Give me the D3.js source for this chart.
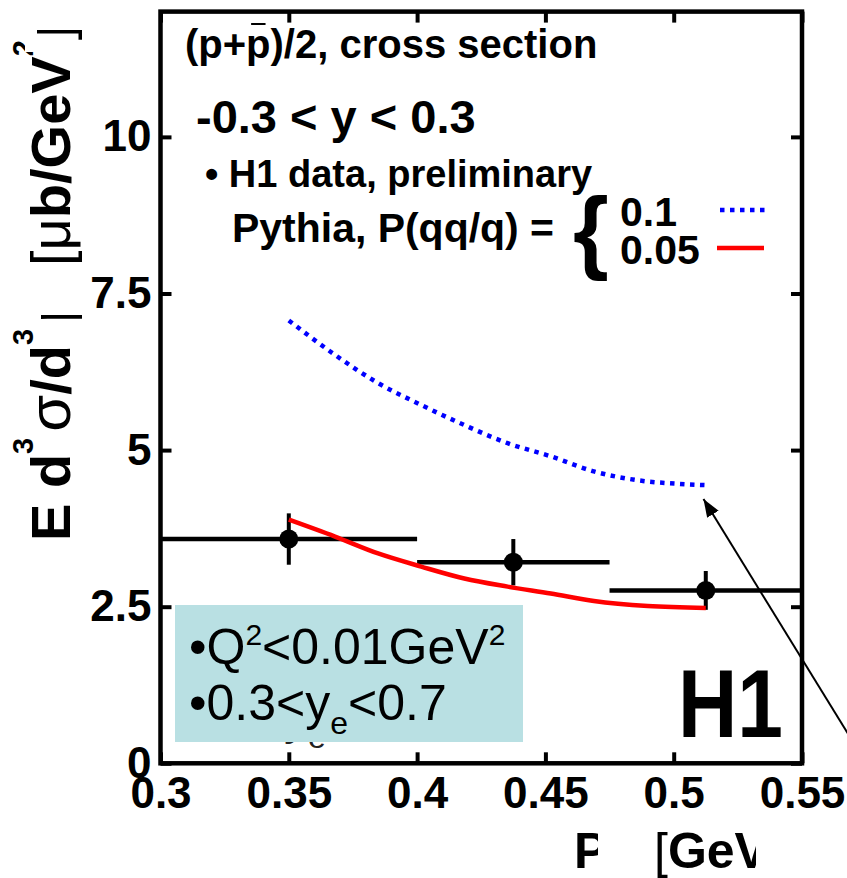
<!DOCTYPE html>
<html>
<head>
<meta charset="utf-8">
<script src="https://cdnjs.cloudflare.com/ajax/libs/d3/7.8.5/d3.min.js"></script>
<style>
  body { margin: 0; background: #fff; }
  svg { display: block; }
  text { font-family: "Liberation Sans", Arial, sans-serif; }
</style>
</head>
<body>
<script>
// ---------- data
var xTicks = [0.3, 0.35, 0.4, 0.45, 0.5, 0.55];
var xTickLabels = ["0.3", "0.35", "0.4", "0.45", "0.5", "0.55"];
var yTicks = [0, 2.5, 5, 7.5, 10];
var yTickLabels = ["0", "2.5", "5", "7.5", "10"];

// H1 points: bin edges, centre, value, error
var binLo = [0.3, 0.4, 0.475];
var binHi = [0.4, 0.475, 0.55];
var ptX = [0.35, 0.4375, 0.5125];
var ptY = [3.58, 3.21, 2.76];
var ptErr = [0.41, 0.37, 0.31];

// Pythia P(qq/q) = 0.1 (blue dotted)
var pyth01X = [0.35, 0.368, 0.3848, 0.4016, 0.4184, 0.4353, 0.4521, 0.4689, 0.4857, 0.5025, 0.5125];
var pyth01Y = [7.07, 6.52, 6.07, 5.72, 5.40, 5.11, 4.90, 4.66, 4.52, 4.46, 4.44];

// Pythia P(qq/q) = 0.05 (red)
var pyth005X = [0.35, 0.368, 0.3848, 0.4016, 0.4184, 0.4353, 0.4521, 0.4689, 0.4899, 0.5125];
var pyth005Y = [3.89, 3.62, 3.35, 3.14, 2.95, 2.82, 2.71, 2.59, 2.51, 2.48];

// arrow annotation (tail, tip) in data units
var arrowFrom = [0.575, 0.0];
var arrowTo = [0.5116, 4.22];

// ---------- size
var W = 847, H = 878;
var padL = 160.5, padR = 802, padT = 11.6, padB = 763.3;

var svg = d3.select("body").append("svg")
    .attr("width", W)
    .attr("height", H);

var x = d3.scaleLinear().domain([0.3, 0.55]).range([padL, padR]);
var y = d3.scaleLinear().domain([0, 12]).range([padB, padT]);

// arrow head marker
svg.append("defs").append("marker")
    .attr("id", "head")
    .attr("markerUnits", "userSpaceOnUse")
    .attr("viewBox", "0 0 16 12")
    .attr("refX", 16).attr("refY", 6)
    .attr("markerWidth", 18).attr("markerHeight", 14)
    .attr("orient", "auto")
  .append("path")
    .attr("d", "M0,0L16,6L0,12Z")
    .attr("fill", "#000");

// ---------- axes (ticks point inwards)
function styleAxis(g, size) {
  g.select(".domain").remove();
  g.selectAll(".tick line").attr("stroke", "#000").attr("stroke-width", 4);
  g.selectAll(".tick text")
    .attr("fill", "#000")
    .attr("font-size", size)
    .attr("font-weight", "bold");
}

svg.append("g")
    .attr("transform", "translate(0," + padB + ")")
    .call(d3.axisBottom(x).tickValues(xTicks).tickSizeInner(-11).tickSizeOuter(0).tickPadding(13)
      .tickFormat(function(d, i) { return xTickLabels[i]; }))
    .call(styleAxis, 44);

svg.append("g")
    .attr("transform", "translate(0," + padT + ")")
    .call(d3.axisTop(x).tickValues(xTicks).tickSizeInner(-11).tickSizeOuter(0).tickFormat(""))
    .call(styleAxis, 0);

svg.append("g")
    .attr("transform", "translate(" + padL + ",0)")
    .call(d3.axisLeft(y).tickValues(yTicks).tickSizeInner(-11).tickSizeOuter(0).tickPadding(9)
      .tickFormat(function(d, i) { return yTickLabels[i]; }))
    .call(styleAxis, 44);

svg.append("g")
    .attr("transform", "translate(" + padR + ",0)")
    .call(d3.axisRight(y).tickValues(yTicks).tickSizeInner(-11).tickSizeOuter(0).tickFormat(""))
    .call(styleAxis, 0);

// frame
svg.append("rect")
    .attr("x", padL).attr("y", padT)
    .attr("width", padR - padL).attr("height", padB - padT)
    .attr("fill", "none")
    .attr("stroke", "#000")
    .attr("stroke-width", 4.5);

// ---------- H1 points
var pts = ptX.map(function(d, i) {
  return { x: d, y: ptY[i], e: ptErr[i], lo: binLo[i], hi: binHi[i] };
});

svg.selectAll("line.hbar")
  .data(pts)
  .enter().append("line")
    .attr("class", "hbar")
    .attr("x1", function(d) { return x(d.lo); })
    .attr("x2", function(d) { return x(d.hi); })
    .attr("y1", function(d) { return y(d.y); })
    .attr("y2", function(d) { return y(d.y); })
    .attr("stroke", "#000").attr("stroke-width", 4.5);

svg.selectAll("line.vbar")
  .data(pts)
  .enter().append("line")
    .attr("class", "vbar")
    .attr("x1", function(d) { return x(d.x); })
    .attr("x2", function(d) { return x(d.x); })
    .attr("y1", function(d) { return y(d.y - d.e); })
    .attr("y2", function(d) { return y(d.y + d.e); })
    .attr("stroke", "#000").attr("stroke-width", 4);

svg.selectAll("circle.pt")
  .data(pts)
  .enter().append("circle")
    .attr("class", "pt")
    .attr("cx", function(d) { return x(d.x); })
    .attr("cy", function(d) { return y(d.y); })
    .attr("r", 9.5)
    .attr("fill", "#000");

// ---------- Pythia curves
var line = d3.line()
    .x(function(d) { return x(d[0]); })
    .y(function(d) { return y(d[1]); })
    .curve(d3.curveMonotoneX);

svg.append("path")
    .datum(d3.zip(pyth01X, pyth01Y))
    .attr("d", line)
    .attr("fill", "none")
    .attr("stroke", "#0000ff")
    .attr("stroke-width", 4.5)
    .attr("stroke-dasharray", "4.5,5.5");

svg.append("path")
    .datum(d3.zip(pyth005X, pyth005Y))
    .attr("d", line)
    .attr("fill", "none")
    .attr("stroke", "#ff0000")
    .attr("stroke-width", 4.5);

// arrow
svg.append("line")
    .attr("x1", x(arrowFrom[0])).attr("y1", y(arrowFrom[1]))
    .attr("x2", x(arrowTo[0])).attr("y2", y(arrowTo[1]))
    .attr("stroke", "#000").attr("stroke-width", 2)
    .attr("marker-end", "url(#head)");

// ---------- labels inside the frame
var t1 = svg.append("text")
    .attr("x", 185).attr("y", 58)
    .attr("font-size", 40).attr("font-weight", "bold")
    .text("(p+p)/2, cross section");
// bar over the second p
var n = t1.node();
var b0 = n.getStartPositionOfChar(3).x, b1 = n.getEndPositionOfChar(3).x;
svg.append("line")
    .attr("x1", b0 + 5).attr("x2", b1 - 5)
    .attr("y1", 24).attr("y2", 24)
    .attr("stroke", "#000").attr("stroke-width", 2);

svg.append("text")
    .attr("x", 196).attr("y", 133)
    .attr("font-size", 47).attr("font-weight", "bold")
    .text("-0.3 < y < 0.3");

svg.append("text")
    .attr("x", 205).attr("y", 187)
    .attr("font-size", 38).attr("font-weight", "bold")
    .text("\u2022 H1 data, preliminary");

svg.append("text")
    .attr("x", 232).attr("y", 242)
    .attr("font-size", 41).attr("font-weight", "bold")
    .attr("textLength", 322).attr("lengthAdjust", "spacingAndGlyphs")
    .text("Pythia, P(qq/q) =");

svg.append("text")
    .attr("x", 573).attr("y", 262)
    .attr("font-size", 92).attr("font-weight", "bold")
    .text("{");

svg.append("text")
    .attr("x", 620).attr("y", 226)
    .attr("font-size", 41).attr("font-weight", "bold")
    .text("0.1");
svg.append("text")
    .attr("x", 620).attr("y", 264)
    .attr("font-size", 41).attr("font-weight", "bold")
    .text("0.05");

svg.append("line")
    .attr("x1", 720).attr("x2", 766).attr("y1", 210).attr("y2", 210)
    .attr("stroke", "#0000ff").attr("stroke-width", 4.5)
    .attr("stroke-dasharray", "4.5,5.5");
svg.append("line")
    .attr("x1", 717).attr("x2", 764).attr("y1", 248).attr("y2", 248)
    .attr("stroke", "#ff0000").attr("stroke-width", 4.5);

// ghost subscript peeking below the box
var ghost = svg.append("text")
    .attr("x", 284).attr("y", 734)
    .attr("font-size", 48).attr("fill", "#222");
ghost.append("tspan").text("y");
ghost.append("tspan").attr("font-size", 32).attr("dy", 14).text("e");

// cut box
svg.append("rect")
    .attr("x", 175).attr("y", 605)
    .attr("width", 348).attr("height", 137)
    .attr("fill", "#b9e0e3");

var c1 = svg.append("text")
    .attr("x", 189).attr("y", 664)
    .attr("font-size", 50).attr("fill", "#000");
c1.append("tspan").text("\u2022Q");
c1.append("tspan").attr("font-size", 30).attr("dy", -19).text("2");
c1.append("tspan").attr("dy", 19).text("<0.01GeV");
c1.append("tspan").attr("font-size", 30).attr("dy", -19).text("2");

var c2 = svg.append("text")
    .attr("x", 189).attr("y", 720)
    .attr("font-size", 50).attr("fill", "#000");
c2.append("tspan").text("\u20220.3<y");
c2.append("tspan").attr("font-size", 32).attr("dy", 14).text("e");
c2.append("tspan").attr("dy", -14).text("<0.7");

svg.append("text")
    .attr("x", 678).attr("y", 737)
    .attr("font-size", 96).attr("font-weight", "bold")
    .attr("textLength", 105).attr("lengthAdjust", "spacingAndGlyphs")
    .text("H1");

// ---------- y title (rotated, partly hidden)
var yt = svg.append("g").attr("transform", "translate(70,0) rotate(-90)");
var ylo = yt.append("text").attr("x", -541).attr("y", 0)
    .attr("font-size", 56).attr("font-weight", "bold");
ylo.append("tspan").text("E d");
ylo.append("tspan").attr("font-size", 29).attr("dy", -37).text("3");
ylo.append("tspan").attr("dy", 37).attr("dx", 6).attr("font-weight", "normal").attr("font-size", 60).text("\u03c3");
ylo.append("tspan").text("/d");
ylo.append("tspan").attr("font-size", 29).attr("dy", -37).text("3");
ylo.append("tspan").attr("dy", 37).attr("dx", 6).text("p");

var yhi = yt.append("text").attr("x", -266).attr("y", 0)
    .attr("font-size", 56).attr("font-weight", "bold");
yhi.append("tspan").attr("font-weight", "normal").text("[\u03bc");
yhi.append("tspan").text("b/GeV");
yhi.append("tspan").attr("font-size", 29).attr("dy", -37).text("2");
yhi.append("tspan").attr("dy", 37).attr("font-weight", "normal").text("]");

// white covers over the hidden parts of the titles
svg.append("rect").attr("x", 0).attr("y", 267).attr("width", 86).attr("height", 48).attr("fill", "#fff");
svg.append("rect").attr("x", 0).attr("y", 0).attr("width", 90).attr("height", 30).attr("fill", "#fff");
svg.append("rect").attr("x", 25).attr("y", 28).attr("width", 12).attr("height", 24).attr("fill", "#fff");

// ---------- x title (partly hidden)
svg.append("text")
    .attr("x", 574).attr("y", 868)
    .attr("font-size", 50).attr("font-weight", "bold")
    .text("P");
var xt = svg.append("text")
    .attr("x", 654).attr("y", 868)
    .attr("font-size", 50).attr("font-weight", "bold");
xt.append("tspan").attr("font-weight", "normal").text("[");
xt.append("tspan").text("GeV]");

svg.append("rect").attr("x", 598).attr("y", 815).attr("width", 54).attr("height", 63).attr("fill", "#fff");
svg.append("rect").attr("x", 756).attr("y", 815).attr("width", 91).attr("height", 63).attr("fill", "#fff");
</script>
</body>
</html>
